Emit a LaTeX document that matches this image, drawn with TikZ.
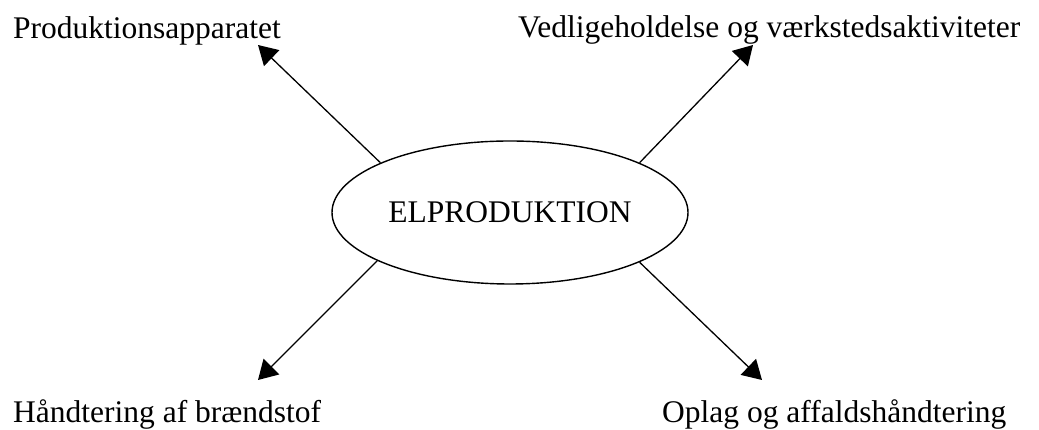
\documentclass[tikz,border=0pt]{standalone}
\usepackage{fontspec}
\setmainfont{Liberation Serif}
\usetikzlibrary{shapes.geometric,arrows.meta}
\begin{document}
\begin{tikzpicture}[x=1pt,y=1pt,
  lbl/.style={inner sep=0pt,anchor=base west,font=\fontsize{31.5}{36}\selectfont},
  hub/.style={draw,ellipse,line width=1.4pt,minimum width=356pt,minimum height=143pt,inner sep=0pt,font=\fontsize{31.5}{36}\selectfont},
  link/.style={line width=1.3pt,-{Triangle[length=19pt,width=22pt]}}]
\useasboundingbox (0,0) rectangle (1039,430);
\node[hub] (el) at (510,217.5) {ELPRODUKTION};
\node[lbl] (pa) at (13,391) {Produktionsapparatet};
\node[lbl] (va) at (518,392) {Vedligeholdelse og værkstedsaktiviteter};
\node[lbl] (hb) at (13,7) {Håndtering af brændstof};
\node[lbl] (oa) at (662,7) {Oplag og affaldshåndtering};
\coordinate (tpa) at (258,385);
\coordinate (tva) at (753,385);
\coordinate (thb) at (258,50);
\coordinate (toa) at (762,50);
\draw[link] (el.159.6) -- (tpa);
\draw[link] (el.21.1) -- (tva);
\draw[link] (el.200.4) -- (thb);
\draw[link] (el.339.6) -- (toa);
\end{tikzpicture}
\end{document}
